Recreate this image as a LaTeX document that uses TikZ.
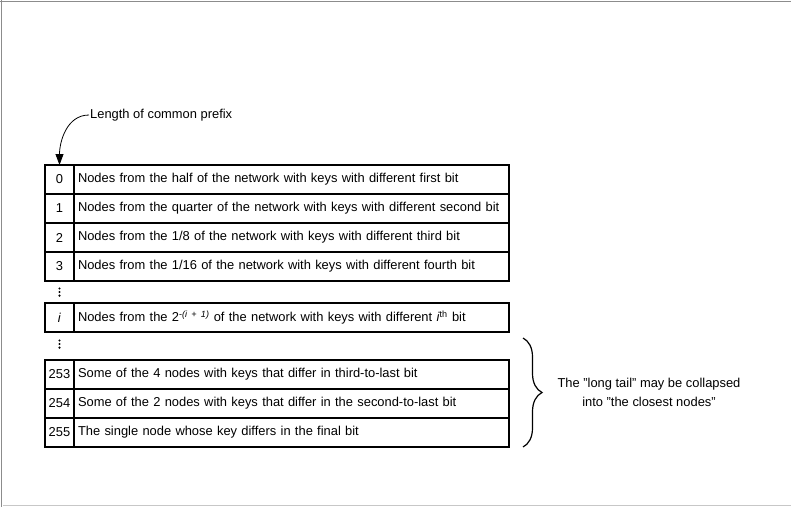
\documentclass[tikz,border=0pt]{standalone}
\usepackage{fontspec}
\setmainfont{Liberation Sans}
\usepackage{tikz}
\usetikzlibrary{
    arrows.meta,
    decorations.pathreplacing,
    positioning
}
\tikzset{
    every picture/.style = {
        > = {Triangle[length = 11pt, width = 8pt]},
        x = 1pt,
        y = 1pt
    },
    numcell/.style = {
        draw,
        line width = 1.2pt,
        inner sep = 0pt,
        outer sep = 0pt,
        minimum width = 29pt,
        minimum height = 29pt,
        anchor = north west
    },
    desccell/.style = {
        draw,
        line width = 1.2pt,
        inner xsep = 4pt,
        inner ysep = 0pt,
        outer sep = 0pt,
        text width = 427pt,
        align = left,
        minimum height = 29pt
    },
    frameline/.style = {
        line width = 1pt,
        draw = #1
    }
}

\begin{document}
\begin{tikzpicture}[
                        font = \fontsize{12.9pt}{15pt}\selectfont,
                        node distance = 0pt
                    ]
                        \useasboundingbox (0,0) rectangle (791,-507);
                        % page frame
                        \draw[frameline = black!45] (0,-1.3) -- (791,-1.3);
                        \draw[frameline = black!45] (1,0) -- (1,-507);
                        \draw[frameline = black!22] (3,-505.7) -- (791,-505.7);

                        % first rows
                        \node[numcell] (n0) at (45,-165) {0};
                        \node[desccell, right = of n0] (d0) {Nodes from the half of the network with keys with different first bit};
                        \node[numcell, below = of n0] (n1) {1};
                        \node[desccell, right = of n1] (d1) {Nodes from the quarter of the network with keys with different second bit};
                        \node[numcell, below = of n1] (n2) {2};
                        \node[desccell, right = of n2] (d2) {Nodes from the 1/8 of the network with keys with different third bit};
                        \node[numcell, below = of n2] (n3) {3};
                        \node[desccell, right = of n3] (d3) {Nodes from the 1/16 of the network with keys with different fourth bit};

                        % general row
                        \node[numcell] (ni) at (45,-303) {\textit{i}};
                        \node[desccell, right = of ni] (di) {Nodes from the 2\textsuperscript{-\textit{(i + 1)}} of the network with keys with different \textit{i}\textsuperscript{th} bit};

                        % last rows
                        \node[numcell] (n253) at (45,-360) {253};
                        \node[desccell, right = of n253] (d253) {Some of the 4 nodes with keys that differ in third-to-last bit};
                        \node[numcell, below = of n253] (n254) {254};
                        \node[desccell, right = of n254] (d254) {Some of the 2 nodes with keys that differ in the second-to-last bit};
                        \node[numcell, below = of n254] (n255) {255};
                        \node[desccell, right = of n255] (d255) {The single node whose key differs in the final bit};

                        % vertical dots
                        \foreach \y in {292,344}
                            \foreach \k in {-3.6,0,3.6}
                                \fill (59.5,{-\y-\k}) circle (1.15);

                        % prefix label
                        \node[anchor = west, inner sep = 1pt] (prefix) at (89,-115) {Length of common prefix};
                        \draw[->, line width = 0.8pt] (prefix.west) to[out = 180, in = 90] (n0.north);

                        % long tail
                        \coordinate (tailtop) at (523,-338);
                        \coordinate (tailbot) at (523,-447);
                        \draw[line width = 1.2pt, decorate, decoration = {brace, amplitude = 19pt}] (tailtop) -- (tailbot);
                        \node[align = center, inner sep = 1pt, font = \fontsize{12.9pt}{19pt}\selectfont] (tail) at (649,-392.5) {The "long tail" may be collapsed\\into "the closest nodes"};
                    \end{tikzpicture}
\end{document}
